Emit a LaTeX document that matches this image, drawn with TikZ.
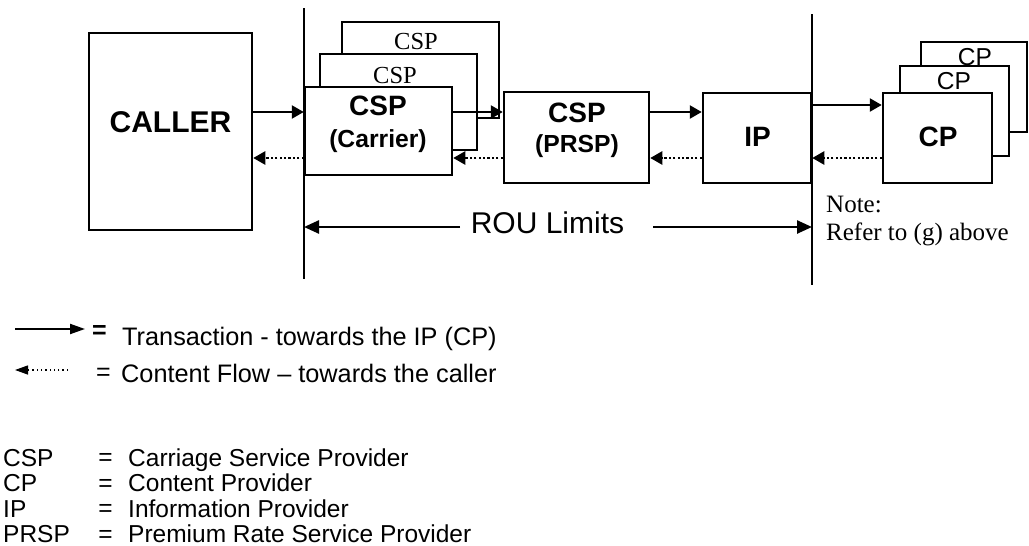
\documentclass[tikz,border=0pt]{standalone}
\usepackage{fontspec}
\setmainfont{Liberation Sans}
\newfontfamily\timesfont{Liberation Serif}
\usepackage{tikz}
\usetikzlibrary{positioning,arrows.meta}

\begin{document}
\begin{tikzpicture}[x=1pt,y=-1pt]
	\tikzset{box/.style={draw,line width=2.5pt,fill=white,inner sep=0pt}}
	\tikzset{lbl/.style={inner sep=0pt,anchor=base}}
	\tikzstyle{bigbf}=[lbl,font=\fontsize{28}{30}\selectfont\bfseries]
	\tikzstyle{smallbf}=[lbl,font=\fontsize{24.7}{28}\selectfont\bfseries]
	\tikzstyle{sanstxt}=[lbl,font=\fontsize{24.5}{28}\selectfont]
	\tikzstyle{seriftxt}=[lbl,font=\fontsize{24.5}{28}\selectfont\timesfont]
	\tikzstyle{fwdarr}=[line width=2.5pt,-{Triangle[length=12pt,width=13pt]}]
	\tikzstyle{bckarr}=[line width=2.5pt,dash pattern=on 2.2pt off 2.2pt,-{Triangle[length=12pt,width=13pt]}]
	\tikzstyle{rouline}=[line width=2pt]
	\useasboundingbox (0,0) rectangle (1029,546);

	%% Boxes, back to front
	\node[box,minimum width=163pt,minimum height=197pt] (caller) at (170.5,131.5) {};
	\node[box,minimum width=157pt,minimum height=96pt] (csp3) at (420.5,70) {};
	\node[box,minimum width=157pt,minimum height=96pt] (csp2) at (398.5,102) {};
	\node[box,minimum width=147pt,minimum height=88pt] (csp1) at (378.5,131) {};
	\node[box,minimum width=145pt,minimum height=91pt] (prsp) at (576.5,137.5) {};
	\node[box,minimum width=108pt,minimum height=90pt] (ip) at (757,138) {};
	\node[box,minimum width=106pt,minimum height=90pt] (cp3) at (974,87) {};
	\node[box,minimum width=109pt,minimum height=90pt] (cp2) at (954.5,111) {};
	\node[box,minimum width=109pt,minimum height=90pt] (cp1) at (937.5,138) {};

	%% Box texts
	\node[bigbf,font=\fontsize{30}{32}\selectfont\bfseries] (callert) at (170.5,132) {CALLER};
	\node[seriftxt] (csp3t) at (416,49) {CSP};
	\node[seriftxt] (csp2t) at (395,83) {CSP};
	\node[bigbf] (csp1t) at (378,115) {CSP};
	\node[smallbf] (csp1s) at (378,147) {(Carrier)};
	\node[bigbf] (prspt) at (577,122) {CSP};
	\node[smallbf] (prsps) at (577,152) {(PRSP)};
	\node[bigbf] (ipt) at (757.5,146) {IP};
	\node[sanstxt] (cp3t) at (975,65) {CP};
	\node[sanstxt] (cp2t) at (954,89) {CP};
	\node[bigbf] (cp1t) at (938,146) {CP};

	%% Flows
	\coordinate (fwd) at (0,112);
	\coordinate (fwdcp) at (0,105);
	\coordinate (bwd) at (0,158);
	\path[fwdarr]
		(caller.east |- fwd) edge (csp1.west |- fwd)
		(csp1.east |- fwd) edge (prsp.west |- fwd)
		(prsp.east |- fwd) edge (ip.west |- fwd)
		(ip.east |- fwdcp) edge (cp1.west |- fwdcp);
	\path[bckarr]
		(csp1.west |- bwd) edge (caller.east |- bwd)
		(prsp.west |- bwd) edge (csp1.east |- bwd)
		(ip.west |- bwd) edge (prsp.east |- bwd)
		(cp1.west |- bwd) edge (ip.east |- bwd);

	%% ROU limits
	\coordinate (lt) at (304,8);
	\coordinate (lb) at (304,279);
	\coordinate (rt) at (812,14);
	\coordinate (rb) at (812,285);
	\draw[rouline] (lt) -- (lb);
	\draw[rouline] (rt) -- (rb);
	\node[lbl,font=\fontsize{30}{32}\selectfont] (rou) at (547.5,233) {ROU Limits};
	\coordinate (rouA) at (460,227);
	\coordinate (rouB) at (653,227);
	\path[line width=2.5pt,-{Triangle[length=15pt,width=13pt]}]
		(rouA) edge (lb |- rouA)
		(rouB) edge (rb |- rouB);
	\node[lbl,anchor=base west,align=left,font=\fontsize{25}{28}\selectfont\timesfont] (note) at (826,240) {Note:\\Refer to (g) above};

	%% Legend
	\coordinate (lg1a) at (15,329);
	\coordinate (lg1b) at (85,329);
	\coordinate (lg2a) at (68,370);
	\coordinate (lg2b) at (15,370);
	\draw[line width=2pt,-{Triangle[length=15pt,width=10pt]}] (lg1a) -- (lg1b);
	\draw[line width=1.3pt,dash pattern=on 1.3pt off 3pt,-{Triangle[length=13pt,width=9pt]}] (lg2a) -- (lg2b);
	\node[inner sep=0pt,font=\fontsize{25}{28}\selectfont\bfseries] (eq1) at (99.5,332) {=};
	\node[inner sep=0pt,font=\fontsize{25}{28}\selectfont] (eq2) at (103.5,374.5) {=};
	\node[sanstxt,anchor=base west,font=\fontsize{25.3}{28}\selectfont] (lgt1) at (122,345) {Transaction - towards the IP (CP)};
	\node[sanstxt,anchor=base west,font=\fontsize{25.3}{28}\selectfont] (lgt2) at (121,382) {Content Flow -- towards the caller};
	\foreach \abbr/\desc [count=\i] in {CSP/Carriage Service Provider,CP/Content Provider,IP/Information Provider,PRSP/Premium Rate Service Provider}
	{
		\node[sanstxt,anchor=base west] (ab\i) at (3,440.5+25.6*\i) {\abbr};
		\node[inner sep=0pt,font=\fontsize{24.5}{28}\selectfont] (eqd\i) at (105.5,434+25.6*\i) {=};
		\node[sanstxt,anchor=base west] (de\i) at (128,440.5+25.6*\i) {\desc};
	}
\end{tikzpicture}
\end{document}
